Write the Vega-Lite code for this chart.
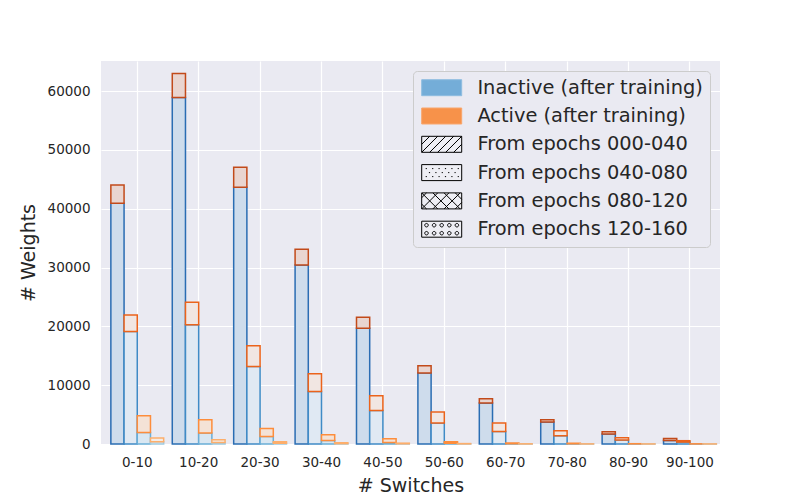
{
  "$schema": "https://vega.github.io/schema/vega-lite/v6.json",
  "width": 619,
  "height": 383,
  "autosize": "none",
  "padding": {"left": 101, "top": 61, "right": 80, "bottom": 56},
  "background": "white",
  "view": {"fill": "#eaeaf2", "stroke": null},
  "config": {
    "view": {"fill": "#eaeaf2", "stroke": null},
    "font": "DejaVu Sans",
    "axis": {
      "domain": false,
      "ticks": false,
      "grid": true,
      "gridColor": "white",
      "gridWidth": 1.2,
      "labelFont": "DejaVu Sans",
      "labelFontSize": 13.5,
      "labelColor": "#262626",
      "titleFont": "DejaVu Sans",
      "titleFontSize": 19,
      "titleFontWeight": "normal",
      "titleColor": "#262626"
    },
    "legend": {
      "labelFont": "DejaVu Sans",
      "labelFontSize": 19.4,
      "labelColor": "#262626",
      "labelLimit": 0
    }
  },
  "layer": [
    {
      "data": {
        "values": [
          {"bin": "0-10", "epoch": "000-040", "status": "Inactive", "key": "I1", "n": 40920},
          {"bin": "0-10", "epoch": "000-040", "status": "Active", "key": "A1", "n": 3100},
          {"bin": "0-10", "epoch": "040-080", "status": "Inactive", "key": "I2", "n": 19120},
          {"bin": "0-10", "epoch": "040-080", "status": "Active", "key": "A2", "n": 2820},
          {"bin": "0-10", "epoch": "080-120", "status": "Inactive", "key": "I3", "n": 1970},
          {"bin": "0-10", "epoch": "080-120", "status": "Active", "key": "A3", "n": 2830},
          {"bin": "0-10", "epoch": "120-160", "status": "Inactive", "key": "I4", "n": 400},
          {"bin": "0-10", "epoch": "120-160", "status": "Active", "key": "A4", "n": 600},
          {"bin": "10-20", "epoch": "000-040", "status": "Inactive", "key": "I1", "n": 58910},
          {"bin": "10-20", "epoch": "000-040", "status": "Active", "key": "A1", "n": 4080},
          {"bin": "10-20", "epoch": "040-080", "status": "Inactive", "key": "I2", "n": 20250},
          {"bin": "10-20", "epoch": "040-080", "status": "Active", "key": "A2", "n": 3860},
          {"bin": "10-20", "epoch": "080-120", "status": "Inactive", "key": "I3", "n": 1870},
          {"bin": "10-20", "epoch": "080-120", "status": "Active", "key": "A3", "n": 2260},
          {"bin": "10-20", "epoch": "120-160", "status": "Inactive", "key": "I4", "n": 250},
          {"bin": "10-20", "epoch": "120-160", "status": "Active", "key": "A4", "n": 480},
          {"bin": "20-30", "epoch": "000-040", "status": "Inactive", "key": "I1", "n": 43630},
          {"bin": "20-30", "epoch": "000-040", "status": "Active", "key": "A1", "n": 3400},
          {"bin": "20-30", "epoch": "040-080", "status": "Inactive", "key": "I2", "n": 13170},
          {"bin": "20-30", "epoch": "040-080", "status": "Active", "key": "A2", "n": 3520},
          {"bin": "20-30", "epoch": "080-120", "status": "Inactive", "key": "I3", "n": 1290},
          {"bin": "20-30", "epoch": "080-120", "status": "Active", "key": "A3", "n": 1360},
          {"bin": "20-30", "epoch": "120-160", "status": "Inactive", "key": "I4", "n": 130},
          {"bin": "20-30", "epoch": "120-160", "status": "Active", "key": "A4", "n": 260},
          {"bin": "30-40", "epoch": "000-040", "status": "Inactive", "key": "I1", "n": 30440},
          {"bin": "30-40", "epoch": "000-040", "status": "Active", "key": "A1", "n": 2670},
          {"bin": "30-40", "epoch": "040-080", "status": "Inactive", "key": "I2", "n": 8930},
          {"bin": "30-40", "epoch": "040-080", "status": "Active", "key": "A2", "n": 3010},
          {"bin": "30-40", "epoch": "080-120", "status": "Inactive", "key": "I3", "n": 610},
          {"bin": "30-40", "epoch": "080-120", "status": "Active", "key": "A3", "n": 970},
          {"bin": "30-40", "epoch": "120-160", "status": "Inactive", "key": "I4", "n": 60},
          {"bin": "30-40", "epoch": "120-160", "status": "Active", "key": "A4", "n": 150},
          {"bin": "40-50", "epoch": "000-040", "status": "Inactive", "key": "I1", "n": 19690},
          {"bin": "40-50", "epoch": "000-040", "status": "Active", "key": "A1", "n": 1870},
          {"bin": "40-50", "epoch": "040-080", "status": "Inactive", "key": "I2", "n": 5700},
          {"bin": "40-50", "epoch": "040-080", "status": "Active", "key": "A2", "n": 2500},
          {"bin": "40-50", "epoch": "080-120", "status": "Inactive", "key": "I3", "n": 270},
          {"bin": "40-50", "epoch": "080-120", "status": "Active", "key": "A3", "n": 630},
          {"bin": "40-50", "epoch": "120-160", "status": "Inactive", "key": "I4", "n": 40},
          {"bin": "40-50", "epoch": "120-160", "status": "Active", "key": "A4", "n": 100},
          {"bin": "50-60", "epoch": "000-040", "status": "Inactive", "key": "I1", "n": 12050},
          {"bin": "50-60", "epoch": "000-040", "status": "Active", "key": "A1", "n": 1240},
          {"bin": "50-60", "epoch": "040-080", "status": "Inactive", "key": "I2", "n": 3570},
          {"bin": "50-60", "epoch": "040-080", "status": "Active", "key": "A2", "n": 1860},
          {"bin": "50-60", "epoch": "080-120", "status": "Inactive", "key": "I3", "n": 120},
          {"bin": "50-60", "epoch": "080-120", "status": "Active", "key": "A3", "n": 270},
          {"bin": "50-60", "epoch": "120-160", "status": "Inactive", "key": "I4", "n": 20},
          {"bin": "50-60", "epoch": "120-160", "status": "Active", "key": "A4", "n": 50},
          {"bin": "60-70", "epoch": "000-040", "status": "Inactive", "key": "I1", "n": 6960},
          {"bin": "60-70", "epoch": "000-040", "status": "Active", "key": "A1", "n": 730},
          {"bin": "60-70", "epoch": "040-080", "status": "Inactive", "key": "I2", "n": 2140},
          {"bin": "60-70", "epoch": "040-080", "status": "Active", "key": "A2", "n": 1430},
          {"bin": "60-70", "epoch": "080-120", "status": "Inactive", "key": "I3", "n": 50},
          {"bin": "60-70", "epoch": "080-120", "status": "Active", "key": "A3", "n": 120},
          {"bin": "60-70", "epoch": "120-160", "status": "Inactive", "key": "I4", "n": 10},
          {"bin": "60-70", "epoch": "120-160", "status": "Active", "key": "A4", "n": 20},
          {"bin": "70-80", "epoch": "000-040", "status": "Inactive", "key": "I1", "n": 3740},
          {"bin": "70-80", "epoch": "000-040", "status": "Active", "key": "A1", "n": 390},
          {"bin": "70-80", "epoch": "040-080", "status": "Inactive", "key": "I2", "n": 1410},
          {"bin": "70-80", "epoch": "040-080", "status": "Active", "key": "A2", "n": 850},
          {"bin": "70-80", "epoch": "080-120", "status": "Inactive", "key": "I3", "n": 40},
          {"bin": "70-80", "epoch": "080-120", "status": "Active", "key": "A3", "n": 90},
          {"bin": "70-80", "epoch": "120-160", "status": "Inactive", "key": "I4", "n": 10},
          {"bin": "70-80", "epoch": "120-160", "status": "Active", "key": "A4", "n": 10},
          {"bin": "80-90", "epoch": "000-040", "status": "Inactive", "key": "I1", "n": 1700},
          {"bin": "80-90", "epoch": "000-040", "status": "Active", "key": "A1", "n": 390},
          {"bin": "80-90", "epoch": "040-080", "status": "Inactive", "key": "I2", "n": 700},
          {"bin": "80-90", "epoch": "040-080", "status": "Active", "key": "A2", "n": 370},
          {"bin": "80-90", "epoch": "080-120", "status": "Inactive", "key": "I3", "n": 20},
          {"bin": "80-90", "epoch": "080-120", "status": "Active", "key": "A3", "n": 30},
          {"bin": "80-90", "epoch": "120-160", "status": "Inactive", "key": "I4", "n": 5},
          {"bin": "80-90", "epoch": "120-160", "status": "Active", "key": "A4", "n": 10},
          {"bin": "90-100", "epoch": "000-040", "status": "Inactive", "key": "I1", "n": 600},
          {"bin": "90-100", "epoch": "000-040", "status": "Active", "key": "A1", "n": 350},
          {"bin": "90-100", "epoch": "040-080", "status": "Inactive", "key": "I2", "n": 330},
          {"bin": "90-100", "epoch": "040-080", "status": "Active", "key": "A2", "n": 230},
          {"bin": "90-100", "epoch": "080-120", "status": "Inactive", "key": "I3", "n": 10},
          {"bin": "90-100", "epoch": "080-120", "status": "Active", "key": "A3", "n": 20},
          {"bin": "90-100", "epoch": "120-160", "status": "Inactive", "key": "I4", "n": 5},
          {"bin": "90-100", "epoch": "120-160", "status": "Active", "key": "A4", "n": 10}
        ]
      },
      "transform": [
        {
          "stack": "n",
          "groupby": ["bin", "epoch"],
          "sort": [{"field": "status", "order": "descending"}],
          "as": ["y0", "y1"]
        }
      ],
      "mark": {"type": "bar", "strokeWidth": 1.5},
      "encoding": {
        "x": {
          "field": "bin",
          "type": "nominal",
          "sort": ["0-10", "10-20", "20-30", "30-40", "40-50", "50-60", "60-70", "70-80", "80-90", "90-100"],
          "scale": {"paddingInner": 0.14, "paddingOuter": 0.11, "align": 0.73},
          "axis": {"title": "# Switches", "labelAngle": 0, "labelPadding": 11, "titlePadding": 8}
        },
        "xOffset": {
          "field": "epoch",
          "type": "nominal",
          "scale": {"paddingInner": 0, "paddingOuter": 0}
        },
        "y": {
          "field": "y1",
          "type": "quantitative",
          "scale": {"domain": [0, 65100], "nice": false},
          "axis": {
            "title": "# Weights",
            "values": [0, 10000, 20000, 30000, 40000, 50000, 60000],
            "format": "d",
            "labelPadding": 11,
            "titlePadding": 9
          }
        },
        "y2": {"field": "y0"},
        "fill": {
          "field": "key",
          "type": "nominal",
          "scale": {
            "domain": ["I1", "I2", "I3", "I4", "A1", "A2", "A3", "A4"],
            "range": ["#cedcec", "#e0e9f3", "#d9e7f2", "#e8eff5", "#e9d5d0", "#f1e6e2", "#f4e2d6", "#f3ece7"]
          },
          "legend": null
        },
        "stroke": {
          "field": "key",
          "type": "nominal",
          "scale": {
            "domain": ["I1", "I2", "I3", "I4", "A1", "A2", "A3", "A4"],
            "range": ["#2a6db3", "#3f8bc6", "#6aaed6", "#9fcae1", "#c24a1a", "#eb631b", "#fd8d3c", "#fdae6b"]
          },
          "legend": null
        }
      }
    },
    {
      "data": {
        "values": [
          {"entry": "Inactive (after training)"},
          {"entry": "Active (after training)"},
          {"entry": "From epochs 000-040"},
          {"entry": "From epochs 040-080"},
          {"entry": "From epochs 080-120"},
          {"entry": "From epochs 120-160"}
        ]
      },
      "mark": {"type": "point", "filled": true, "size": 0, "opacity": 1},
      "encoding": {
        "fill": {
          "field": "entry",
          "type": "nominal",
          "scale": {
            "domain": ["Inactive (after training)", "Active (after training)", "From epochs 000-040", "From epochs 040-080", "From epochs 080-120", "From epochs 120-160"],
            "range": ["#74add8", "#f7924a", "#eeeef4", "#eeeef4", "#eeeef4", "#eeeef4"]
          },
          "legend": {
            "title": null,
            "orient": "top-right",
            "offset": 10,
            "padding": 7,
            "fillColor": "#eaeaf2",
            "strokeColor": "#cccccc",
            "cornerRadius": 4,
            "symbolSize": 256,
            "symbolOpacity": 1,
            "symbolStrokeWidth": 1,
            "symbolOffset": 12,
            "labelOffset": 26,
            "rowPadding": 7.3
          }
        },
        "stroke": {
          "field": "entry",
          "type": "nominal",
          "scale": {
            "domain": ["Inactive (after training)", "Active (after training)", "From epochs 000-040", "From epochs 040-080", "From epochs 080-120", "From epochs 120-160"],
            "range": ["#8ebde0", "#f9a66c", "#000000", "#000000", "#000000", "#000000"]
          }
        },
        "shape": {
          "field": "entry",
          "type": "nominal",
          "scale": {
            "domain": ["Inactive (after training)", "Active (after training)", "From epochs 000-040", "From epochs 040-080", "From epochs 080-120", "From epochs 120-160"],
            "range": [
              "M-2.5,-1H2.5V1H-2.5Z",
              "M-2.5,-1H2.5V1H-2.5Z",
              "M-2.5,-1H2.5V1H-2.5Z M-2.5,0L-1.5,-1 M-2.5,1L-0.5,-1 M-1.5,1L0.5,-1 M-0.5,1L1.5,-1 M0.5,1L2.5,-1 M1.5,1L2.5,0",
              "M-2.5,-1H2.5V1H-2.5Z M-2,-0.5h0.15 M-1.2,-0.5h0.15 M-0.4,-0.5h0.15 M0.4,-0.5h0.15 M1.2,-0.5h0.15 M2,-0.5h0.15 M-1.6,0h0.15 M-0.8,0h0.15 M0,0h0.15 M0.8,0h0.15 M1.6,0h0.15 M-2,0.5h0.15 M-1.2,0.5h0.15 M-0.4,0.5h0.15 M0.4,0.5h0.15 M1.2,0.5h0.15 M2,0.5h0.15",
              "M-2.5,-1H2.5V1H-2.5Z M-2.5,-0.4L-1.9,-1 M-2.5,1L-0.5,-1 M-1.1,1L0.9,-1 M0.3,1L2.3,-1 M1.7,1L2.5,0.2 M-2.5,0.4L-1.9,1 M-2.5,-1L-0.5,1 M-1.1,-1L0.9,1 M0.3,-1L2.3,1 M1.7,-1L2.5,-0.2",
              "M-2.5,-1H2.5V1H-2.5Z M-2.12,-0.5a0.22,0.22 0 1,0 0.44,0a0.22,0.22 0 1,0 -0.44,0 M-1.17,-0.5a0.22,0.22 0 1,0 0.44,0a0.22,0.22 0 1,0 -0.44,0 M-0.22,-0.5a0.22,0.22 0 1,0 0.44,0a0.22,0.22 0 1,0 -0.44,0 M0.73,-0.5a0.22,0.22 0 1,0 0.44,0a0.22,0.22 0 1,0 -0.44,0 M1.68,-0.5a0.22,0.22 0 1,0 0.44,0a0.22,0.22 0 1,0 -0.44,0 M-2.12,0.5a0.22,0.22 0 1,0 0.44,0a0.22,0.22 0 1,0 -0.44,0 M-1.17,0.5a0.22,0.22 0 1,0 0.44,0a0.22,0.22 0 1,0 -0.44,0 M-0.22,0.5a0.22,0.22 0 1,0 0.44,0a0.22,0.22 0 1,0 -0.44,0 M0.73,0.5a0.22,0.22 0 1,0 0.44,0a0.22,0.22 0 1,0 -0.44,0 M1.68,0.5a0.22,0.22 0 1,0 0.44,0a0.22,0.22 0 1,0 -0.44,0"
            ]
          }
        }
      }
    }
  ],
  "resolve": {"scale": {"fill": "independent", "stroke": "independent", "shape": "independent"}}
}
